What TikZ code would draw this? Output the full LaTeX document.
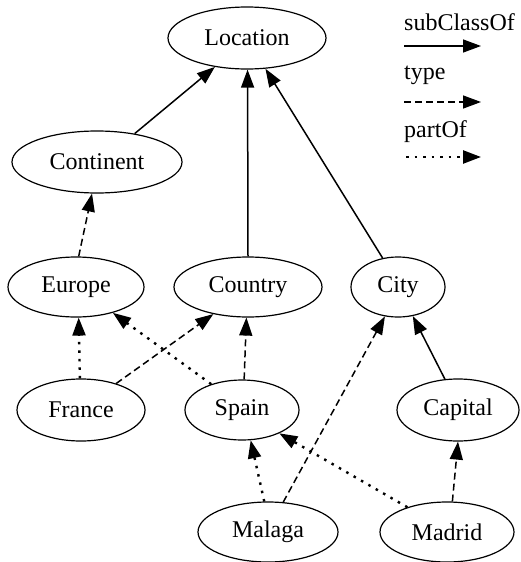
\documentclass[tikz,border=0pt]{standalone}
\usepackage{fontspec}
\setmainfont{Liberation Serif}
\usetikzlibrary{shapes.geometric,arrows.meta}
\begin{document}
\begin{tikzpicture}[x=1pt,y=-1pt,
  cls/.style={ellipse,draw,line width=1.2pt,inner sep=0pt,font=\fontsize{24}{28}\selectfont},
  sub/.style={-{Triangle[length=18pt,width=13pt]},line width=1.5pt},
  typ/.style={sub,dash pattern=on 7pt off 4pt},
  part/.style={sub,line width=2.4pt,dash pattern=on 2.5pt off 6pt},
  leg/.style={anchor=base west,inner sep=0pt,font=\fontsize{24}{28}\selectfont}]
\useasboundingbox (0,0) rectangle (520,562);
% nodes
\node[cls,minimum width=158pt,minimum height=62pt] (loc) at (247,38) {Location};
\node[cls,minimum width=170pt,minimum height=62pt] (cont) at (97,162) {Continent};
\node[cls,minimum width=136pt,minimum height=60pt] (eur) at (76,287) {Europe};
\node[cls,minimum width=148pt,minimum height=60pt] (coun) at (248,287) {Country};
\node[cls,minimum width=94pt,minimum height=60pt] (city) at (398,287) {City};
\node[cls,minimum width=128pt,minimum height=62pt] (fra) at (81,410) {France};
\node[cls,minimum width=114pt,minimum height=60pt] (spa) at (242,410) {Spain};
\node[cls,minimum width=122pt,minimum height=62pt] (cap) at (458,410) {Capital};
\node[cls,minimum width=140pt,minimum height=60pt] (mal) at (268,532) {Malaga};
\node[cls,minimum width=134pt,minimum height=60pt] (mad) at (447,532) {Madrid};
% legend
\node[leg] (t1) at (404,30) {subClassOf};
\node[leg] (t2) at (404,79) {type};
\node[leg] (t3) at (404,137) {partOf};
\coordinate (a1) at (404,46); \coordinate (b1) at (481,46);
\coordinate (a2) at (404,102); \coordinate (b2) at (481,102);
\coordinate (a3) at (406,157); \coordinate (b3) at (481,157);
\draw[sub] (a1) -- (b1);
\draw[typ] (a2) -- (b2);
\draw[part] (a3) -- (b3);
% subClassOf
\draw[sub] (cont.37.6) -- (loc.-138.6);
\draw[sub] (coun.90) -- (loc.-89);
\draw[sub] (city.118) -- (loc.-59);
\draw[sub] (cap.113) -- (city.-63);
% type
\draw[typ] (eur.85) -- (cont.-99);
\draw[typ] (fra.37) -- (coun.-142);
\draw[typ] (spa.86) -- (coun.-93);
\draw[typ] (mal.63) -- (city.-114);
\draw[typ] (mad.80) -- (cap.-90);
% partOf
\draw[part] (fra.92) -- (eur.-85);
\draw[part] (spa.140) -- (eur.-35);
\draw[part] (mal.97) -- (spa.-74);
\draw[part] (mad.148) -- (spa.-32);
\end{tikzpicture}
\end{document}
